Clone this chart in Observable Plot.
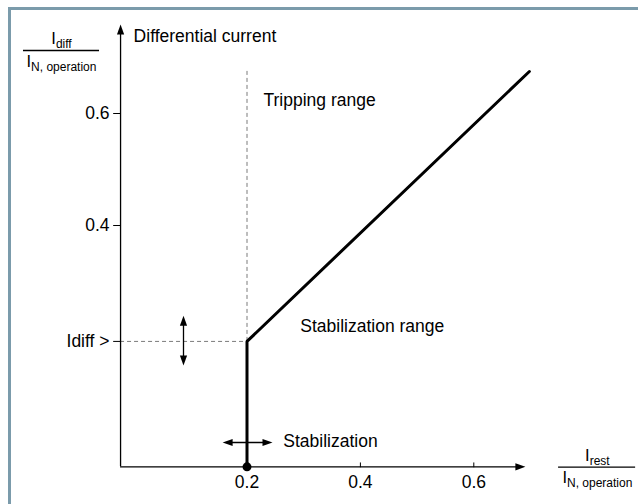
<!DOCTYPE html>
<html>
<head>
<meta charset="utf-8">
<script src="https://cdn.jsdelivr.net/npm/d3@7"></script>
<script src="https://cdn.jsdelivr.net/npm/@observablehq/plot@0.6"></script>
<style>
  html, body { margin: 0; padding: 0; background: #fff; }
  #wrap { position: relative; width: 638px; height: 504px; overflow: hidden; }
  #frame { position: absolute; left: 8px; top: 7px; right: -10px; bottom: -10px;
           border-top: 3px solid #7b9bab; border-left: 3px solid #7b9bab; pointer-events: none; }
  svg { font-family: "Liberation Sans", Arial, sans-serif; }
</style>
</head>
<body>
<div id="wrap"><div id="frame"></div></div>
<script>
// ---- data ----
const xTicks = [0.2, 0.4, 0.6];
const xTickLabels = ["0.2", "0.4", "0.6"];
const yTicks = [0.4, 0.6];
const yTickLabels = ["0.4", "0.6"];
const idiffLevel = 0.193;
const idiffLabel = "Idiff >";
const setting = 0.2;                 // Idiff> pick-up point on x
const curveX = [0.2, 0.2, 0.698];
const curveY = [-0.031, 0.193, 0.675];
const axisX0 = -0.023, axisXEnd = 0.691;   // x-axis extent
const axisY0 = -0.031, axisYEnd = 0.759;   // y-axis extent
const dashTop = 0.68;
const vArrow = {x: 0.088, y1: 0.15, y2: 0.239};
const hArrow = {y: 0.0125, x1: 0.157, x2: 0.245};
const labels = [
  {text: "Differential current", x: 0.0, y: 0.7375},
  {text: "Tripping range", x: 0.229, y: 0.623},
  {text: "Stabilization range", x: 0.294, y: 0.2196},
  {text: "Stabilization", x: 0.264, y: 0.0148}
];
const fracY = {num: "I_diff", den: "I_N, operation", x: -0.1272, yNum: 0.7334, yDen: 0.6925, lineY: 0.7125, x1: -0.1942, x2: -0.0601};
const fracX = {num: "I_rest", den: "I_N, operation", x: 0.818, yNum: -0.0116, yDen: -0.0504, lineY: -0.0316, x1: 0.7495, x2: 0.8854};

// ---- derived tables ----
const curve = curveX.map((x, i) => ({x, y: curveY[i]}));
const xTickData = xTicks.map((v, i) => ({v, label: xTickLabels[i]}));
const yTickData = yTicks.map((v, i) => ({v, label: yTickLabels[i]}));
const heads = [
  {x: axisXEnd, y: axisY0, rotate: 90},
  {x: axisX0, y: axisYEnd, rotate: 0},
  {x: vArrow.x, y: vArrow.y2, rotate: 0},
  {x: vArrow.x, y: vArrow.y1, rotate: 180},
  {x: hArrow.x2, y: hArrow.y, rotate: 90},
  {x: hArrow.x1, y: hArrow.y, rotate: 270}
];
const tickShape = {draw(context, l) { context.moveTo(0, 0); context.lineTo(0, -l); }};
const font = 17.5;

const chart = Plot.plot({
  width: 638,
  height: 504,
  margin: 0,
  x: {domain: [0.2, 0.6], range: [246.5, 473.3], axis: null},
  y: {domain: [0.4, 0.6], range: [225, 113], axis: null},
  marks: [
    // dashed guide lines
    Plot.ruleX([setting], {y1: idiffLevel, y2: dashTop, stroke: "#7a7a7a", strokeWidth: 1, strokeDasharray: "4,3"}),
    Plot.ruleY([idiffLevel], {x1: axisX0, x2: setting, stroke: "#7a7a7a", strokeWidth: 1, strokeDasharray: "4,3"}),
    // axes
    Plot.ruleY([axisY0], {x1: axisX0, x2: axisXEnd - 0.01, stroke: "black", strokeWidth: 1.3}),
    Plot.ruleX([axisX0], {y1: axisY0, y2: axisYEnd - 0.01, stroke: "black", strokeWidth: 1.3}),
    // ticks
    Plot.vector(xTickData, {x: "v", y: () => axisY0, length: 4, rotate: 0, anchor: "start", shape: tickShape, stroke: "black", strokeWidth: 1}),
    Plot.vector([...yTicks, idiffLevel], {x: () => axisX0, y: d => d, length: 7, rotate: 270, anchor: "start", shape: tickShape, stroke: "black", strokeWidth: 1}),
    // tick labels
    Plot.text(xTickData, {x: "v", y: () => -0.059, text: "label", fontSize: font, fill: "black"}),
    Plot.text(yTickData, {x: () => -0.0425, y: "v", text: "label", textAnchor: "end", fontSize: font, fill: "black"}),
    Plot.text([idiffLabel], {x: () => -0.0425, y: () => idiffLevel, text: d => d, textAnchor: "end", fontSize: font, fill: "black"}),
    // double arrows
    Plot.ruleX([vArrow], {x: "x", y1: d => d.y1 + 0.01, y2: d => d.y2 - 0.01, stroke: "black", strokeWidth: 1.3}),
    Plot.ruleY([hArrow], {y: "y", x1: d => d.x1 + 0.01, x2: d => d.x2 - 0.01, stroke: "black", strokeWidth: 1.3}),
    // arrow heads
    Plot.vector(heads, {x: "x", y: "y", rotate: "rotate", length: 10, r: 3.6, anchor: "end", shape: "spike", fill: "black", stroke: "none"}),
    // characteristic
    Plot.line(curve, {x: "x", y: "y", stroke: "black", strokeWidth: 3, strokeLinejoin: "miter"}),
    Plot.dot([{x: setting, y: axisY0}], {x: "x", y: "y", r: 4.5, fill: "black"}),
    // region labels
    Plot.text(labels, {x: "x", y: "y", text: "text", textAnchor: "start", fontSize: font, fill: "black"}),
    // unit fractions
    Plot.ruleY([fracY, fracX], {y: "lineY", x1: "x1", x2: "x2", stroke: "black", strokeWidth: 1.3}),
    Plot.text([fracY, fracX], {x: "x", y: "yNum", text: "num", fontSize: 16.5, fill: "black", className: "sub"}),
    Plot.text([fracY, fracX], {x: "x", y: "yDen", text: "den", fontSize: 16.5, fill: "black", className: "sub"})
  ]
});

// turn "I_xxx" into I with a subscript
d3.select(chart).selectAll("g.sub text").each(function() {
  const t = this.textContent;
  const i = t.indexOf("_");
  if (i < 0) return;
  const el = d3.select(this);
  el.text(null);
  el.append("tspan").text(t.slice(0, i));
  el.append("tspan").attr("font-size", "12px").attr("dy", "0.3em").text(t.slice(i + 1));
});

document.getElementById("wrap").prepend(chart);
</script>
</body>
</html>
